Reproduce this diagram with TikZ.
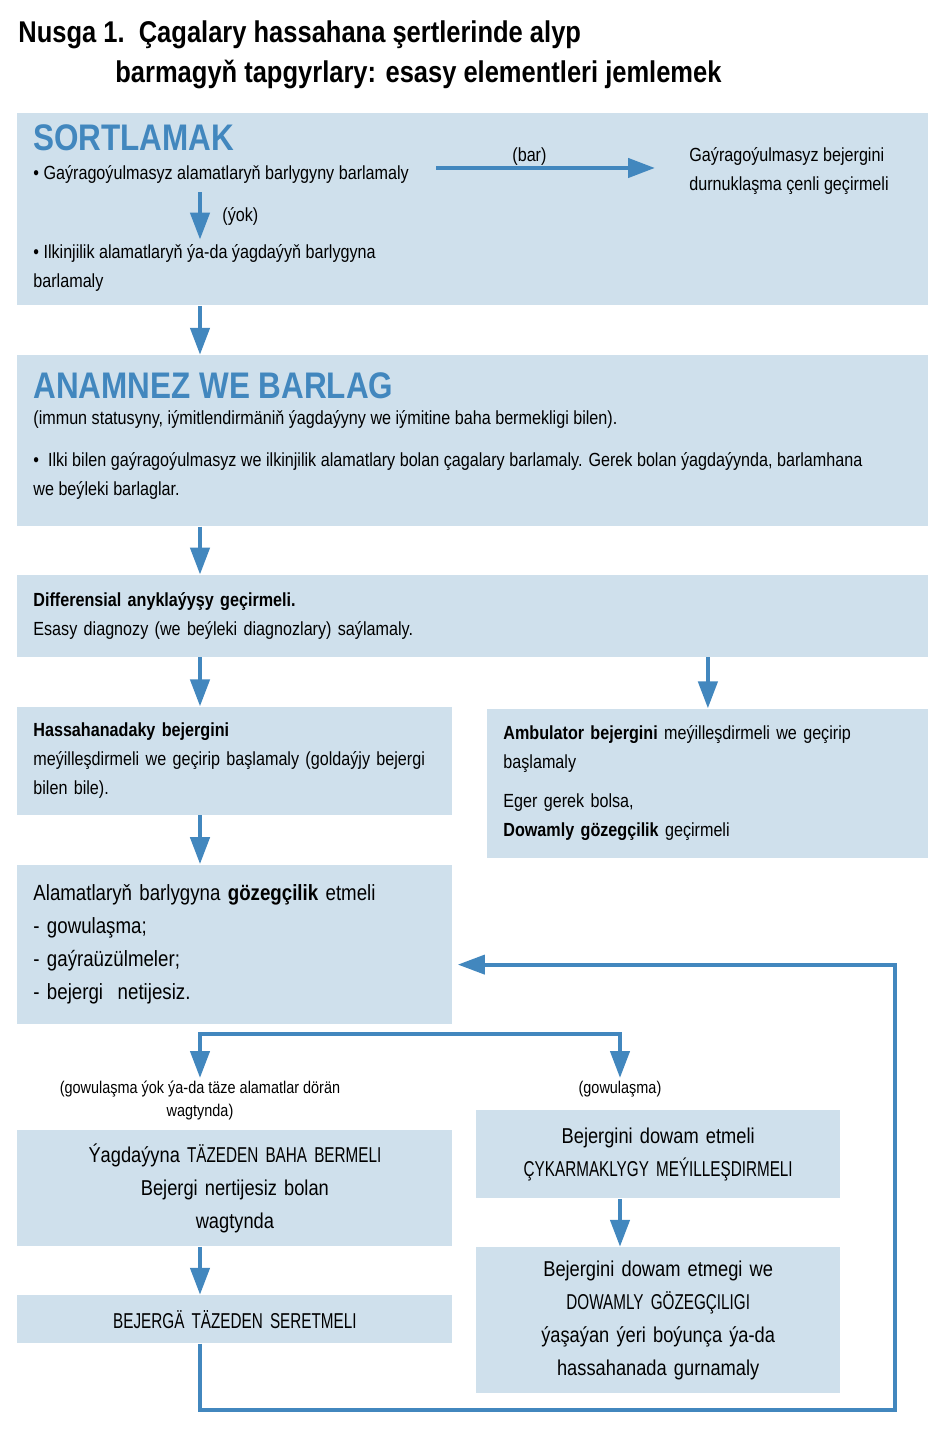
\documentclass[tikz,border=0pt]{standalone}
\usepackage{fontspec}
\setmainfont{Liberation Sans}[FakeStretch=0.85]
\newfontfamily\capsfont{Liberation Sans}[FakeStretch=0.71]
\usetikzlibrary{positioning,arrows.meta}
\definecolor{boxfill}{RGB}{207,224,236}
\definecolor{flowblue}{RGB}{66,135,190}
\newcommand{\fBody}{\fontsize{9.5}{14.5}\selectfont}
\newcommand{\fBig}{\fontsize{11}{16.5}\selectfont}
\newcommand{\fMid}{\fontsize{10.75}{16.5}\selectfont}
\newcommand{\fHead}{\fontsize{18.5}{20}\selectfont\bfseries}
\newcommand{\fNote}{\fontsize{8.5}{11.5}\selectfont}
\newcommand{\fTitle}{\fontsize{15}{20}\selectfont\bfseries}
\newcommand{\caps}[1]{{\capsfont #1}}

\begin{document}
\begin{tikzpicture}[x=0.5pt, y=-0.5pt,
  box/.style={fill=boxfill, inner xsep=8pt, inner ysep=0pt, anchor=north west, align=left},
  wide/.style={box, text width=439.5pt},
  half/.style={box, text width=201.5pt},
  mid/.style={box, text width=166pt, align=center},
  txt/.style={inner sep=0pt, anchor=base west},
  note/.style={inner sep=1.5pt, font=\fNote, align=center},
  arr/.style={draw=flowblue, line width=2.2pt, -{Triangle[length=13.5pt,width=9.5pt]}},
  link/.style={draw=flowblue, line width=1.75pt},
]
\useasboundingbox (0,0) rectangle (940,1432);

% multi-line text nodes sit on their last baseline
\node[txt, font=\fTitle, align=left] (title) at (18,82) {Nusga 1.\ \ Çagalary hassahana şertlerinde alyp\\\hspace*{48.5pt}barmagyň tapgyrlary: esasy elementleri jemlemek};

\coordinate (colL) at (200,0);
\coordinate (colR) at (620,0);

% sortlamak
\node[box, minimum width=455.5pt, minimum height=96pt] (sort) at (17,113) {};
\node[txt, font=\fHead, text=flowblue] (sortHead) at (33,150) {SORTLAMAK};
\node[txt, font=\fBody] (sortQ) at (33,179) {• Gaýragoýulmasyz alamatlaryň barlygyny barlamaly};
\node[txt, font=\fBody] (barLbl) at (512,161) {(bar)};
\node[txt, font=\fBody, align=left] (sortYes) at (689,190) {Gaýragoýulmasyz bejergini\\durnuklaşma çenli geçirmeli};
\node[txt, font=\fBody] (yokLbl) at (222,221) {(ýok)};
\node[txt, font=\fBody, align=left] (sortB) at (33,287) {• Ilkinjilik alamatlaryň ýa-da ýagdaýyň barlygyna\\barlamaly};

% anamnez
\node[box, minimum width=455.5pt, minimum height=85.5pt, below=24.5pt of sort.south west, anchor=north west] (ana) {};
\node[txt, font=\fHead, text=flowblue] (anaHead) at (33,398) {ANAMNEZ WE BARLAG};
\node[txt, font=\fBody] (anaSub) at (33,424) {(immun statusyny, iýmitlendirmäniň ýagdaýyny we iýmitine baha bermekligi bilen).};
\node[txt, font=\fBody, align=left] (anaB) at (33,495) {•\ \ Ilki bilen gaýragoýulmasyz we ilkinjilik alamatlary bolan çagalary barlamaly. Gerek bolan ýagdaýynda, barlamhana\\we beýleki barlaglar.};

\node[wide, font=\fBody, minimum height=41pt, below=24pt of ana.south west, anchor=north west] (diff)
  {\textbf{Differensial anyklaýyşy geçirmeli.}\\Esasy diagnozy (we beýleki diagnozlary) saýlamaly.};

\node[half, font=\fBody, minimum height=54pt, below=24.5pt of diff.south west, anchor=north west] (hosp)
  {\textbf{Hassahanadaky bejergini}\\\makebox[201.5pt][s]{meýilleşdirmeli we geçirip başlamaly (goldaýjy bejergi}\\bilen bile).};
\node[box, text width=204.5pt, font=\fBody, minimum height=74.5pt, below=25.5pt of diff.south east, anchor=north east] (amb)
  {\makebox[204.5pt][s]{\textbf{Ambulator bejergini} meýilleşdirmeli we geçirip}\\başlamaly\\[5pt]Eger gerek bolsa,\\\textbf{Dowamly gözegçilik} geçirmeli};

\node[half, font=\fBig, minimum height=79.5pt, below=24.5pt of hosp.south west, anchor=north west] (obs)
  {Alamatlaryň barlygyna \textbf{gözegçilik} etmeli\\- gowulaşma;\\- gaýraüzülmeler;\\- bejergi\ \ netijesiz.};

\coordinate (splitL) at ([yshift=-5pt]obs.south -| colL);
\coordinate (splitR) at (splitL -| colR);
\node[note, below=22pt of splitL] (lblNo) {(gowulaşma ýok ýa-da täze alamatlar dörän\\wagtynda)};
\node[note, below=22pt of splitR] (lblYes) {(gowulaşma)};

\node[half, align=center, font=\fMid, minimum height=58pt, below=53pt of obs.south west, anchor=north west] (reass)
  {Ýagdaýyna \caps{TÄZEDEN BAHA BERMELI}\\Bejergi nertijesiz bolan\\wagtynda};
\node[half, align=center, font=\fMid, minimum height=24pt, below=24pt of reass.south west, anchor=north west] (review)
  {\caps{BEJERGÄ TÄZEDEN SERETMELI}};
\node[mid, font=\fMid, minimum height=44pt, below right=43pt and 11.5pt of obs.south east] (cont)
  {Bejergini dowam etmeli\\\caps{ÇYKARMAKLYGY MEÝILLEŞDIRMELI}};
\node[mid, font=\fMid, minimum height=73pt, below=24pt of cont.south west, anchor=north west] (long)
  {Bejergini dowam etmegi we\\\caps{DOWAMLY GÖZEGÇILIGI}\\ýaşaýan ýeri boýunça ýa-da\\hassahanada gurnamaly};

\coordinate (loopBR) at (895,1410);

\draw[arr] ([xshift=13.5pt,yshift=3pt]sortQ.east) -- ([xshift=-17pt,yshift=3pt]sortQ.east -| sortYes.west);
\draw[arr] ([yshift=-4.5pt]sortQ.south -| colL) -- ([yshift=2pt]sortB.north -| colL);
\draw[arr] (sort.south -| colL) -- (ana.north -| colL);
\draw[arr] (ana.south -| colL) -- (diff.north -| colL);
\draw[arr] (diff.south -| colL) -- (hosp.north -| colL);
\draw[arr] (diff.south -| amb.north) -- (amb.north);
\draw[arr] (hosp.south -| colL) -- (obs.north -| colL);
\draw[link, line cap=rect] (splitL) -- (splitR);
\draw[arr] (splitL) -- (lblNo.north);
\draw[arr] (splitR) -- (lblYes.north);
\draw[arr] (reass.south -| colL) -- (review.north -| colL);
\draw[arr] (cont.south -| colR) -- (long.north -| colR);
\draw[arr, line width=1.9pt] (review.south -| colL) |- (loopBR) |- ([xshift=2.5pt,yshift=-10.25pt]obs.east);

\end{tikzpicture}
\end{document}
